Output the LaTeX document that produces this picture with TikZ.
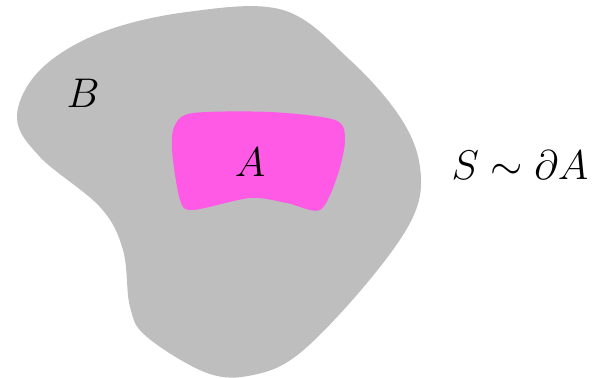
\documentclass[tikz,border=0pt]{standalone}
\definecolor{blobgray}{RGB}{190,190,190}
\definecolor{blobpink}{RGB}{255,90,230}
\begin{document}
\begin{tikzpicture}[x=0.5pt,y=-0.5pt,
  lbl/.style={font=\fontsize{21}{25}\selectfont, inner sep=0pt}]
\useasboundingbox (0,0) rectangle (611,378);
\fill[blobgray] plot[smooth cycle, tension=0.6] coordinates {
  (100,33) (187,12) (283,10) (350,60) (400,117) (420,167) (413,217)
  (367,283) (300,353) (253,375) (207,373) (147,337) (130,307)
  (123,250) (100,207) (40,157) (17,117) (40,70)};
\fill[blobpink] plot[smooth cycle, tension=0.5] coordinates {
  (193,113) (270,112) (335,120) (345,140) (337,177) (320,210)
  (287,203) (250,198) (193,210) (180,200) (172,150) (175,125)};
\node[lbl] (B) at (83,93) {$B$};
\node[lbl] (A) at (250,162) {$A$};
\node[lbl] (S) at (520,165) {$S \sim \partial A$};
\end{tikzpicture}
\end{document}
